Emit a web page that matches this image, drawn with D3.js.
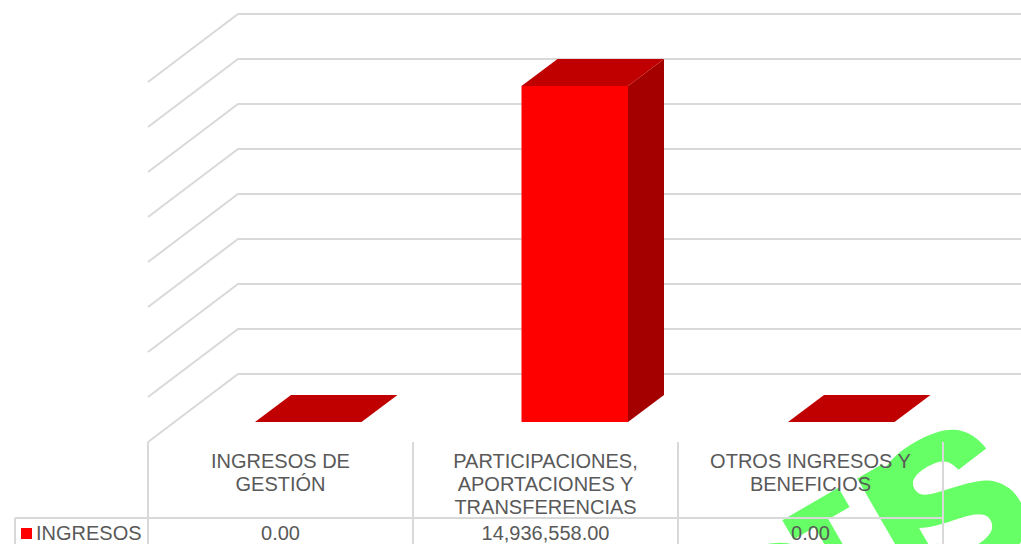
<!DOCTYPE html>
<html>
<head>
<meta charset="utf-8">
<script src="https://cdn.jsdelivr.net/npm/d3@7/dist/d3.min.js"></script>
<style>
  html, body { margin: 0; padding: 0; background: #fff; overflow: hidden; }
  text { font-family: "Liberation Sans", Arial, sans-serif; fill: #595959; font-size: 20px; }
  text.mark { font-weight: bold; fill: #66ff66; stroke: #66ff66; }
</style>
</head>
<body>
<div id="chart"></div>
<script>
const categories = [
  ["INGRESOS DE", "GESTIÓN"],
  ["PARTICIPACIONES,", "APORTACIONES Y", "TRANSFERENCIAS"],
  ["OTROS INGRESOS Y", "BENEFICIOS"]
];
const values = [0, 14936558, 0];
const valueLabels = ["0.00", "14,936,558.00", "0.00"];
const seriesName = "INGRESOS";
const gridTicks = [0, 2000000, 4000000, 6000000, 8000000, 10000000, 12000000, 14000000, 16000000];

const width = 1021, height = 544;
const svg = d3.select("#chart").append("svg").attr("width", width).attr("height", height);

// plot geometry, front edge of the floor
const left = 148, right = 943, floorY = 442, tableTop = 518;
const depthX = 90, depthY = 68;
const barDepthX = 36, barDepthY = 27;

const x = d3.scaleBand().domain(d3.range(categories.length)).range([left, right]);
// the bars sit further back in the 3d box so their spacing differs a bit from the table
const barX = d3.scaleBand().domain(d3.range(categories.length)).range([175, 974.5]);
const y = d3.scaleLinear().domain([0, 16000000]).range([0, 360]);

const grid = "#d9d9d9";

// watermark goes under the labels and the table lines, mostly cut off by the picture edge
function mark(letter, px, py, sx, thick) {
  svg.append("text").attr("class", "mark").style("font-size", "200px").style("stroke-width", thick)
    .attr("transform", `translate(${px},${py}) rotate(-30) scale(${sx},1)`)
    .text(letter);
}
mark("O", 744, 714, 1, 0);
mark("T", 850, 640, 0.55, 0);
mark("I", 914.5, 604.5, 1, 0);
mark("S", 928, 600, 1, 7);

// gridlines, side wall then back wall
const grids = svg.append("g").attr("fill", "none").attr("stroke", grid).attr("stroke-width", 2);
gridTicks.forEach(t => {
  const h = y(t);
  grids.append("path").attr("d", d3.line()([
    [left, floorY - h],
    [left + depthX, floorY - depthY - h],
    [width, floorY - depthY - h]
  ]));
});

// bars
const barWidth = 106.5;
const barFrontBase = 422;
values.forEach((v, i) => {
  const bx = barX(i) + (barX.bandwidth() - barWidth) / 2;
  const h = y(v);
  const top = barFrontBase - h;
  const g = svg.append("g");
  g.append("rect").attr("x", bx).attr("y", top).attr("width", barWidth).attr("height", h).attr("fill", "#ff0000");
  g.append("path").attr("fill", "#a50000").attr("d", d3.line()([
    [bx + barWidth, top], [bx + barWidth + barDepthX, top - barDepthY],
    [bx + barWidth + barDepthX, barFrontBase - barDepthY], [bx + barWidth, barFrontBase]
  ]) + "Z");
  g.append("path").attr("fill", "#c00000").attr("d", d3.line()([
    [bx, top], [bx + barDepthX, top - barDepthY],
    [bx + barWidth + barDepthX, top - barDepthY], [bx + barWidth, top]
  ]) + "Z");
});

// table lines
const lines = svg.append("g").attr("stroke", grid).attr("stroke-width", 2);
[left, x(1), x(2), right].forEach(px => {
  lines.append("line").attr("x1", px).attr("x2", px).attr("y1", floorY).attr("y2", height);
});
lines.append("line").attr("x1", 15).attr("x2", 15).attr("y1", tableTop).attr("y2", height);
lines.append("line").attr("x1", 15).attr("x2", right).attr("y1", tableTop).attr("y2", tableTop);

// category labels
categories.forEach((lab, i) => {
  const t = svg.append("text").attr("text-anchor", "middle");
  lab.forEach((s, j) => {
    t.append("tspan").attr("x", x(i) + x.bandwidth() / 2).attr("y", 467.5 + j * 23).text(s);
  });
  svg.append("text").attr("text-anchor", "middle")
    .attr("x", x(i) + x.bandwidth() / 2).attr("y", 540).text(valueLabels[i]);
});

// legend key
svg.append("rect").attr("x", 21).attr("y", 528).attr("width", 11).attr("height", 11).attr("fill", "#ff0000");
svg.append("text").attr("x", 36).attr("y", 540).text(seriesName);
</script>
</body>
</html>
